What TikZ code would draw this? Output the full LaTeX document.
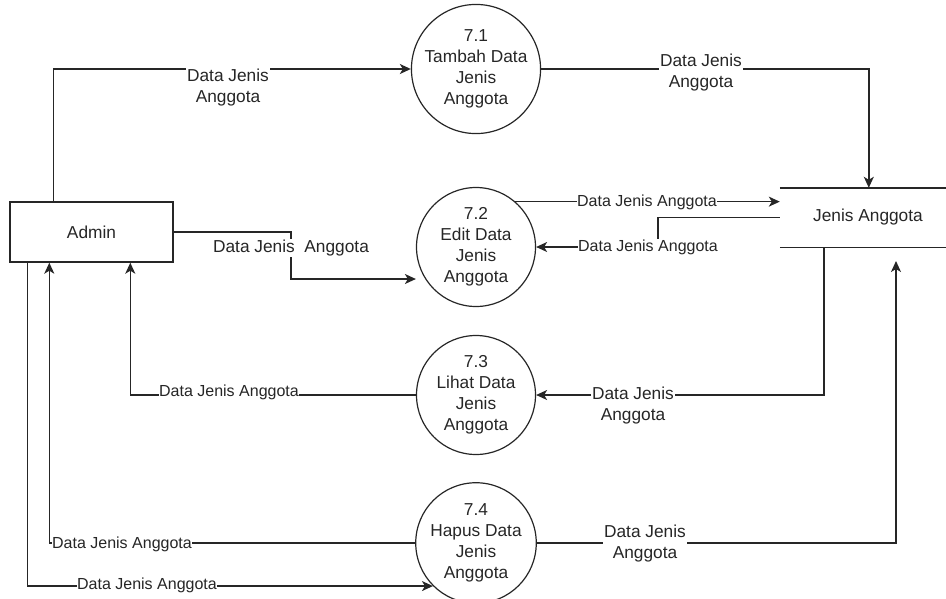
\documentclass[tikz,border=0pt]{standalone}
\usepackage{fontspec}
\setmainfont{Liberation Sans}
\usetikzlibrary{arrows.meta}
\definecolor{ink}{HTML}{262626}
\begin{document}
\begin{tikzpicture}[x=1pt,y=-1pt,
  font=\fontsize{17.3}{21}\selectfont, text=ink,
  flow/.style={draw=ink, line width=1.4pt, -{Stealth[length=11pt,width=10pt,inset=3pt]}},
  link/.style={draw=ink, line width=1.4pt},
  process/.style={circle, draw=ink, line width=1.2pt, minimum size=119pt, inner sep=0pt, align=center},
  entity/.style={rectangle, draw=ink, line width=1.4pt, minimum width=163pt, minimum height=60pt},
  storebox/.style={rectangle, minimum width=166pt, minimum height=59pt, inner sep=0pt},
  flowlabel/.style={fill=white, inner sep=1pt, align=center},
  smalllabel/.style={fill=white, inner sep=0.5pt, font=\fontsize{16}{19}\selectfont}]
\clip (0,0) rectangle (946,598);

% external entity, processes and data store
\node[entity] (admin) at (91.5,232) {Admin};
\node[process] (p1) at (476,69)  {7.1\\Tambah Data\\Jenis\\Anggota};
\node[process] (p2) at (476,247) {7.2\\Edit Data\\Jenis\\Anggota};
\node[process] (p3) at (476,395) {7.3\\Lihat Data\\Jenis\\Anggota};
\node[process] (p4) at (476,543) {7.4\\Hapus Data\\Jenis\\Anggota};
\node[storebox] (store) at (863,217.5) {};
\node (storetext) at (868,217) {Jenis Anggota};
\draw[link] (store.north west) -- (store.north east);
\draw[link] (store.south west) -- (store.south east);

% bends and free ends of the flows
\coordinate (bendEdit) at (291,279);
\coordinate (bendBack) at (658,247);
\coordinate (storeIn) at (896,261);

% data flows
\draw[flow] ([xshift=44pt]admin.north west) |- (p1.west);
\draw[flow] (p1.east) -| ([xshift=89pt]store.north west);
\draw[flow] (admin.east) -| (bendEdit) -- (bendEdit -| p2.west);
\draw[flow] (p2.49) -- (p2.49 -| store.west);
\draw[flow] (store.west) -| (bendBack) -- (p2.east);
\draw[flow] ([xshift=44pt]store.south west) |- (p3.east);
\draw[flow] (p3.west) -| ([xshift=121pt]admin.south west);
\draw[flow] (p4.west) -| ([xshift=40pt]admin.south west);
\draw[flow] ([xshift=18pt]admin.south west) |- (p4.225);
\draw[flow] (p4.east) -| (storeIn);

% flow labels
\node[flowlabel] (l1) at (228,88) {Data Jenis\\Anggota};
\node[flowlabel] (l2) at (701,73) {Data Jenis\\Anggota};
\node[flowlabel] (l3) at (291,248) {Data Jenis\ \ Anggota};
\node[smalllabel] (l4) at (647,202) {Data Jenis Anggota};
\node[smalllabel] (l5) at (648,247) {Data Jenis Anggota};
\node[flowlabel] (l6) at (633,406) {Data Jenis\\Anggota};
\node[smalllabel] (l7) at (229,392) {Data Jenis Anggota};
\node[smalllabel] (l8) at (122,544) {Data Jenis Anggota};
\node[smalllabel] (l9) at (147,585) {Data Jenis Anggota};
\node[flowlabel] (l10) at (645,544) {Data Jenis\\Anggota};
\end{tikzpicture}
\end{document}
